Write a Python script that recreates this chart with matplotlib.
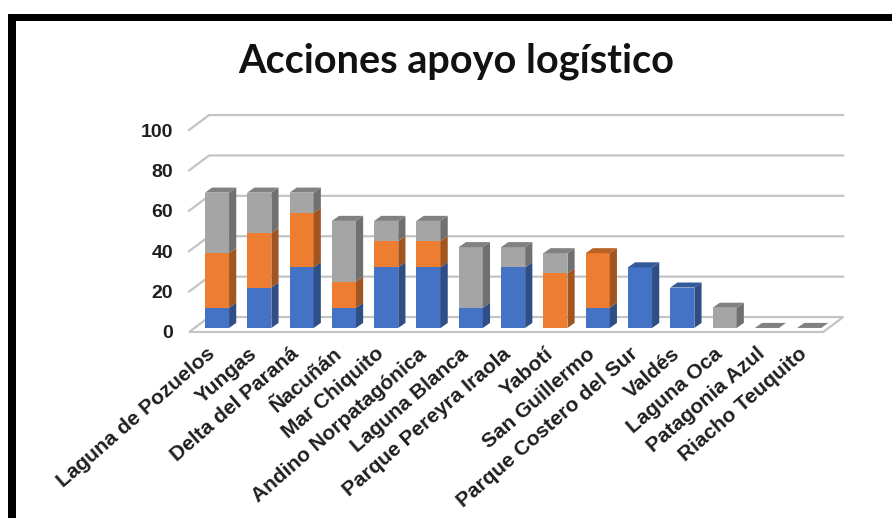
import numpy as np
import matplotlib.pyplot as plt
import matplotlib.transforms as mtransforms
from matplotlib.patches import Polygon, Rectangle
from matplotlib.colors import to_rgb

# ── data ──────────────────────────────────────────────────────────────────────
categories = [
    "Laguna de Pozuelos", "Yungas", "Delta del Paraná", "Ñacuñán", "Mar Chiquito",
    "Andino Norpatagónica", "Laguna Blanca", "Parque Pereyra Iraola", "Yabotí",
    "San Guillermo", "Parque Costero del Sur", "Valdés", "Laguna Oca",
    "Patagonia Azul", "Riacho Teuquito",
]
serie_azul = [10, 20, 30, 10, 30, 30, 10, 30, 0, 10, 30, 20, 0, 0, 0]
serie_naranja = [27, 27, 27, 13, 13, 13, 0, 0, 27, 27, 0, 0, 0, 0, 0]
serie_gris = [30, 20, 10, 30, 10, 10, 30, 10, 10, 0, 0, 0, 10, 0, 0]
y_ticks = [0, 20, 40, 60, 80, 100]

COLORS = ["#4472C4", "#ED7D31", "#A5A5A5"]
GRID = "#C4C4C4"

# ── layout (pixels of the 892x518 output) ─────────────────────────────────────
W, H = 892, 518
PX_CAT = 42.3      # px between bar centres
PX_UNIT = 2.02     # px per value unit
X0_PX, Y0_PX = 217, 332          # first bar centre / floor front at 0
AX_L, AX_R, AX_T, AX_B = 180, 870, 100, 350

# 3D look, in data units
FLOOR_L, FLOOR_R = -0.66, 14.33
WALL_DX, WALL_DY = 0.473, 7.4
BAR_W = 0.57
BAR_DX, BAR_DY = 0.17, 2.5
BAR_BASE = 2.0


def shade(c, f):
    r, g, b = to_rgb(c)
    return (r * f, g * f, b * f)


fig = plt.figure(figsize=(W / 100, H / 100), dpi=100)
fig.patch.set_facecolor("white")
ax = fig.add_axes([AX_L / W, 1 - AX_B / H, (AX_R - AX_L) / W, (AX_B - AX_T) / H])
ax.set_xlim((AX_L - X0_PX) / PX_CAT, (AX_R - X0_PX) / PX_CAT)
ax.set_ylim((Y0_PX - AX_B) / PX_UNIT, (Y0_PX - AX_T) / PX_UNIT)
for s in ax.spines.values():
    s.set_visible(False)

# floor + back wall gridlines
ax.add_patch(Polygon([(FLOOR_L, 0), (FLOOR_R, 0), (FLOOR_R + WALL_DX, WALL_DY),
                      (FLOOR_L + WALL_DX, WALL_DY)], closed=True,
                     facecolor="white", edgecolor=GRID, lw=1.6, zorder=1))
for v in y_ticks[1:]:
    ax.plot([FLOOR_L, FLOOR_L + WALL_DX, FLOOR_R + WALL_DX],
            [v, v + WALL_DY, v + WALL_DY], color=GRID, lw=1.6, zorder=1)

# stacked bars: front faces with ax.bar, side/top faces as polygons
x = np.arange(len(categories))
series = [serie_azul, serie_naranja, serie_gris]
bottom = np.full(len(categories), BAR_BASE, dtype=float)
for vals, col in zip(series, COLORS):
    vals = np.asarray(vals, dtype=float)
    ax.bar(x, vals, width=BAR_W, bottom=bottom, color=col, zorder=3,
           linewidth=0)
    for xi, b, h in zip(x, bottom, vals):
        if h <= 0:
            continue
        xr = xi + BAR_W / 2
        ax.add_patch(Polygon([(xr, b), (xr + BAR_DX, b + BAR_DY),
                              (xr + BAR_DX, b + h + BAR_DY), (xr, b + h)],
                             closed=True, facecolor=shade(col, 0.68),
                             lw=0, zorder=3))
    bottom = bottom + vals

# top faces (zero-height bars keep the grey top)
totals = bottom
for i, (xi, t) in enumerate(zip(x, totals)):
    top_col = COLORS[2]
    for vals, col in zip(series, COLORS):
        if vals[i] > 0:
            top_col = col
    xl = xi - BAR_W / 2
    ax.add_patch(Polygon([(xl, t), (xl + BAR_W, t), (xl + BAR_W + BAR_DX, t + BAR_DY),
                          (xl + BAR_DX, t + BAR_DY)], closed=True,
                         facecolor=shade(top_col, 0.78), lw=0, zorder=4))

ax.set_yticks(y_ticks)
ax.set_yticklabels([str(v) for v in y_ticks])
ax.set_xticks(x)
ax.set_xticklabels(categories, rotation=41, ha="right", va="center",
                   rotation_mode="anchor")
ax.tick_params(axis="both", length=0, labelcolor="#1f1f1f")
ax.tick_params(axis="y", pad=5, labelsize=14)
ax.tick_params(axis="x", pad=1, labelsize=15)
shift = mtransforms.ScaledTranslation(-5 / 100, 0, fig.dpi_scale_trans)
for lab in ax.get_xticklabels():
    lab.set_transform(lab.get_transform() + shift)
for lab in ax.get_xticklabels() + ax.get_yticklabels():
    lab.set_fontfamily("Liberation Sans")
    lab.set_fontweight("bold")

fig.text(456 / W, 1 - 73 / H, "Acciones apoyo logístico", ha="center",
         va="baseline", fontsize=28.5, fontweight="bold", family="Lato",
         color="#111111")

# black frame (left + top edges of the pasted picture)
fig.add_artist(Rectangle((8 / W, 0), 8 / W, 1 - 14 / H, transform=fig.transFigure,
                         facecolor="black", lw=0))
fig.add_artist(Rectangle((8 / W, 1 - 21 / H), 1, 7 / H, transform=fig.transFigure,
                         facecolor="black", lw=0))

fig.savefig("out.png", dpi=100)
